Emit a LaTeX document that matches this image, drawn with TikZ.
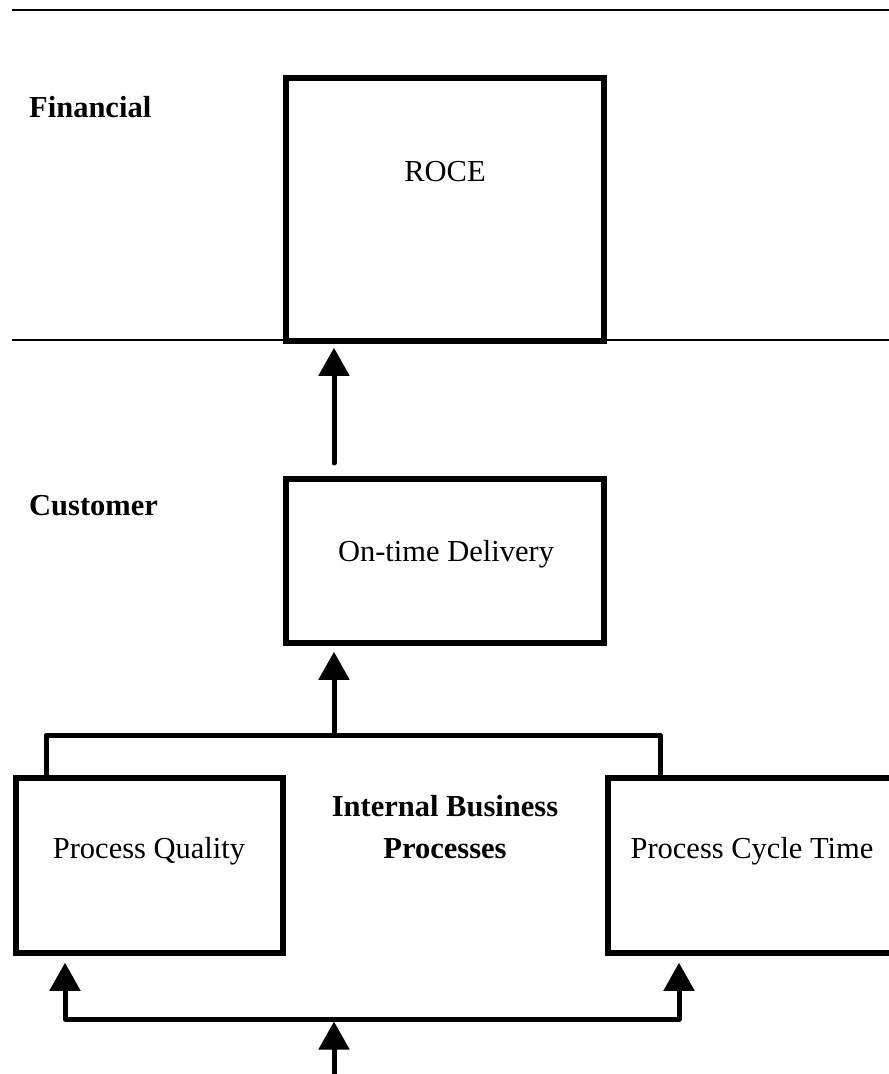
\documentclass[tikz,border=0pt]{standalone}
\usepackage{fontspec}
\setmainfont{Liberation Serif}
\usetikzlibrary{arrows.meta}

\begin{document}
\begin{tikzpicture}[x=1pt, y=-1pt, line cap=round, line join=round,
  >={Triangle[length=28pt,width=30pt]},
  box/.style={draw, line width=5.5pt, line join=miter, inner sep=0pt},
  lbl/.style={inner sep=0pt, font=\fontsize{30.5}{42}\selectfont},
  conn/.style={line width=5pt}]
  \useasboundingbox (0,0) rectangle (889,1074);
  % perspective rules
  \draw[line width=2pt, line cap=butt] (12,10) -- (900,10);
  \draw[line width=2pt, line cap=butt] (12,340) -- (900,340);
  % boxes
  \node[box, minimum width=318pt, minimum height=263pt] (roce) at (445,209.5) {};
  \node[box, minimum width=318pt, minimum height=164pt] (ontime) at (445,561) {};
  \node[box, minimum width=267pt, minimum height=175pt] (quality) at (149.5,865.5) {};
  \node[box, minimum width=312pt, minimum height=175pt] (cycle) at (764,865.5) {};
  \scriptsize
  \node[lbl, anchor=base west] (fin) at (29,117) {\textbf{Financial}};
  \node[lbl, anchor=base west] (cust) at (29,515) {\textbf{Customer}};
  \node[lbl, anchor=base] (rocetxt) at (445,181) {ROCE};
  \node[lbl, anchor=base] (ontimetxt) at (446,561) {On-time Delivery};
  \node[lbl, anchor=base] (qualtxt) at (149,858) {Process Quality};
  \node[lbl, anchor=base] (cycletxt) at (752,858) {Process Cycle Time};
  \node[lbl, anchor=base, align=center] (ibp) at (445,858) {\textbf{Internal Business}\\\textbf{Processes}};
  % connectors
  \coordinate (up1) at (334,463);
  \coordinate (brk) at (334,735);
  \coordinate (bl) at (46,778);
  \coordinate (br) at (660,778);
  \coordinate (fl) at (65,1019);
  \coordinate (fr) at (679,1019);
  \coordinate (src) at (334,1085);
  \draw[conn, ->, shorten >=4pt] (up1) -- (up1 |- roce.south);
  \draw[conn, ->, shorten >=6pt] (brk) -- (brk |- ontime.south);
  \draw[conn] (bl) |- (brk) -| (br);
  \draw[conn, <->, shorten <=7pt, shorten >=7pt] (fl |- quality.south) -- (fl) -- (fr) -- (fr |- cycle.south);
  \draw[conn, ->, shorten >=2.5pt] (src) -- (src |- fl);
\end{tikzpicture}
\end{document}
